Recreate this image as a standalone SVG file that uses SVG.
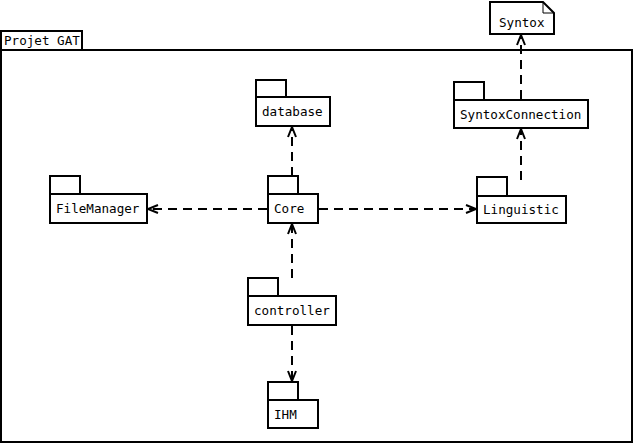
<svg xmlns="http://www.w3.org/2000/svg" width="635" height="445" viewBox="0 0 635 445">
<style>
.b{fill:#fff;stroke:#000;stroke-width:2}
.t{font-family:"DejaVu Sans Mono","Liberation Mono",monospace;font-size:12.6px;fill:#000}
.c{fill:none;stroke:#000;stroke-width:2;stroke-dasharray:9,6}
</style>
<defs>
<marker id="a" markerUnits="userSpaceOnUse" markerWidth="14" markerHeight="12" viewBox="0 0 14 12" refX="12" refY="6" orient="auto">
<path d="M2,2 L12,6 L2,10" fill="none" stroke="#000" stroke-width="2" stroke-dasharray="none"/>
</marker>
</defs>
<rect width="635" height="445" fill="#fff"/>
<g id="frame">
<rect class="b" x="1" y="50" width="631" height="392"/>
<rect class="b" x="1" y="31" width="81" height="19"/>
<text class="t" x="4" y="45">Projet GAT</text>
</g>
<g id="syntox">
<path class="b" d="M490,2 H543 L554,13 V34 H490 Z"/>
<path d="M543,2 V13 H554" fill="none" stroke="#000" stroke-width="1"/>
<text class="t" x="499" y="27">Syntox</text>
</g>
<g id="database">
<rect class="b" x="256" y="80" width="30" height="17"/>
<rect class="b" x="256" y="97" width="74" height="29"/>
<text class="t" x="262" y="116">database</text>
</g>
<g id="syntoxconnection">
<rect class="b" x="454" y="82" width="30" height="18"/>
<rect class="b" x="454" y="100" width="134" height="28"/>
<text class="t" x="460" y="119">SyntoxConnection</text>
</g>
<g id="filemanager">
<rect class="b" x="50" y="176" width="30" height="18"/>
<rect class="b" x="50" y="194" width="97" height="29"/>
<text class="t" x="56" y="213">FileManager</text>
</g>
<g id="core">
<rect class="b" x="268" y="176" width="30" height="18"/>
<rect class="b" x="268" y="194" width="50" height="29"/>
<text class="t" x="274" y="213">Core</text>
</g>
<g id="linguistic">
<rect class="b" x="477" y="177" width="30" height="19"/>
<rect class="b" x="477" y="196" width="89" height="27"/>
<text class="t" x="483" y="214">Linguistic</text>
</g>
<g id="controller">
<rect class="b" x="248" y="278" width="30" height="18"/>
<rect class="b" x="248" y="296" width="88" height="29"/>
<text class="t" x="254" y="315">controller</text>
</g>
<g id="ihm">
<rect class="b" x="268" y="382" width="30" height="18"/>
<rect class="b" x="268" y="400" width="50" height="28"/>
<text class="t" x="274" y="419">IHM</text>
</g>
<g id="connectors">
<path class="c" d="M292,176 V127" marker-end="url(#a)"/>
<path class="c" d="M267,209 H148" marker-end="url(#a)"/>
<path class="c" d="M319,209 H476" marker-end="url(#a)"/>
<path class="c" d="M292,278 V224" marker-end="url(#a)"/>
<path class="c" d="M292,326 V381" marker-end="url(#a)"/>
<path class="c" d="M521,180 V129" marker-end="url(#a)"/>
<path class="c" d="M521,99 V35" marker-end="url(#a)"/>
</g>
</svg>
